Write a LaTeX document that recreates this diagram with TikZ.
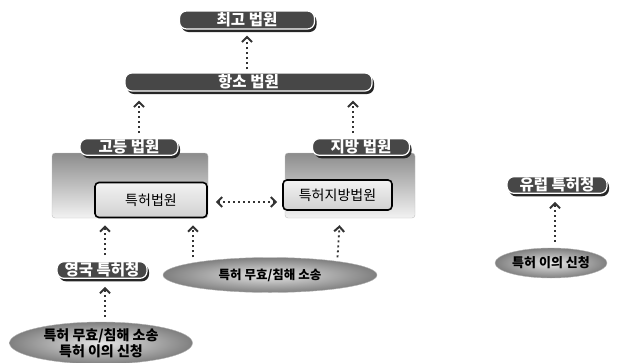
\documentclass[tikz,border=0pt]{standalone}
\usepackage{fontspec}
\newfontfamily\kr{Noto Sans CJK KR}
\usetikzlibrary{shapes, shapes.geometric, calc, arrows.meta, shadows, positioning}

\begin{document}
\begin{tikzpicture}[x=1pt, y=-1pt,
    pill/.style={rounded corners=7pt, fill=black!72, draw=white, line width=1.2pt,
        text=white, font=\kr\bfseries\fontsize{15.5}{15}\selectfont, inner sep=1pt,
        minimum height=18pt,
        drop shadow={shadow xshift=2pt, shadow yshift=-3pt, fill=black!85, opacity=1}},
    courtbox/.style={rounded corners=3pt, top color=black!45, bottom color=black!5, draw=black!25},
    inbox/.style={rounded corners=4pt, top color=black!5, bottom color=black!18,
        draw=black, line width=1.6pt, font=\kr\fontsize{14}{14}\selectfont},
    ball/.style={ellipse, inner sep=0pt, shading=radial, inner color=black!10, outer color=black!50,
        draw=black!30, font=\kr\bfseries\fontsize{13}{14}\selectfont, align=center},
    tipb/.tip={Straight Barb[length=5pt, width=10pt, line width=2pt]},
    darr/.style={black!80, line width=1.8pt, dash pattern=on 2pt off 3pt, -tipb},
    ddarr/.style={darr, tipb-tipb}]

    \useasboundingbox (0,0) rectangle (618,362);

    % court boxes
    \node[courtbox, minimum width=156pt, minimum height=65pt] (highbox) at (130,185.5) {};
    \node[courtbox, minimum width=130pt, minimum height=65pt] (distbox) at (350,185.5) {};
    \node[inbox, minimum width=112pt, minimum height=35pt] (patentcourt) at (151,200) {특허법원};
    \node[inbox, minimum width=109pt, minimum height=30pt] (distpatent) at (337.5,195) {특허지방법원};

    % labels
    \node[pill, minimum width=135pt] (supreme) at (247,20) {최고 법원};
    \node[pill, minimum width=247pt] (appeal) at (248.5,82) {항소 법원};
    \node[pill, minimum width=98pt, minimum height=16pt] (high) at (129,147) {고등 법원};
    \node[pill, minimum width=97pt, minimum height=16pt] (district) at (361,147) {지방 법원};
    \node[pill, minimum width=90pt, minimum height=16pt] (uk) at (102,270) {영국 특허청};
    \node[pill, minimum width=100pt, minimum height=16pt] (epo) at (557,185) {유럽 특허청};

    % ellipses
    \node[ball, minimum width=214pt, minimum height=35pt, font=\kr\bfseries\fontsize{12.5}{13}\selectfont] (suit) at (270,275) {특허 무효/침해 소송};
    \node[ball, minimum width=183pt, minimum height=42pt, font=\kr\bfseries\fontsize{14}{16}\selectfont] (ukcase) at (101,343) {특허 무효/침해 소송\\특허 이의 신청};
    \node[ball, minimum width=112pt, minimum height=30pt] (opposition) at (551,263) {특허 이의 신청};

    % arrows
    \draw[darr, shorten <=3pt, shorten >=6pt] (appeal.north -| supreme.south) -- (supreme.south);
    \draw[darr, shorten <=5pt, shorten >=9pt] ([xshift=10pt]high.north) -- ([xshift=10pt]high.north |- appeal.south);
    \draw[darr, shorten <=5pt, shorten >=9pt] ([xshift=-8pt]district.north) -- ([xshift=-8pt]district.north |- appeal.south);
    \draw[ddarr, shorten <=8pt, shorten >=5pt] ([yshift=-2pt]patentcourt.east) -- ([yshift=-2pt]patentcourt.east -| distpatent.west);
    \draw[darr, shorten <=6pt, shorten >=7pt] ([xshift=3pt]uk.north) -- ([xshift=3pt]uk.north |- patentcourt.south);
    \draw[darr, shorten >=7pt] (suit.north -| 193,0) -- (patentcourt.south -| 193,0);
    \draw[darr, shorten >=7pt] (suit.north -| distpatent.south) -- ([xshift=2.5pt]distpatent.south |- distbox.south);
    \draw[darr, shorten <=5pt, shorten >=8pt] (ukcase.north -| 105,0) -- (uk.south -| 105,0);
    \draw[darr, shorten <=6pt, shorten >=8pt] (opposition.north -| 555,0) -- (epo.south -| 555,0);

\end{tikzpicture}
\end{document}
